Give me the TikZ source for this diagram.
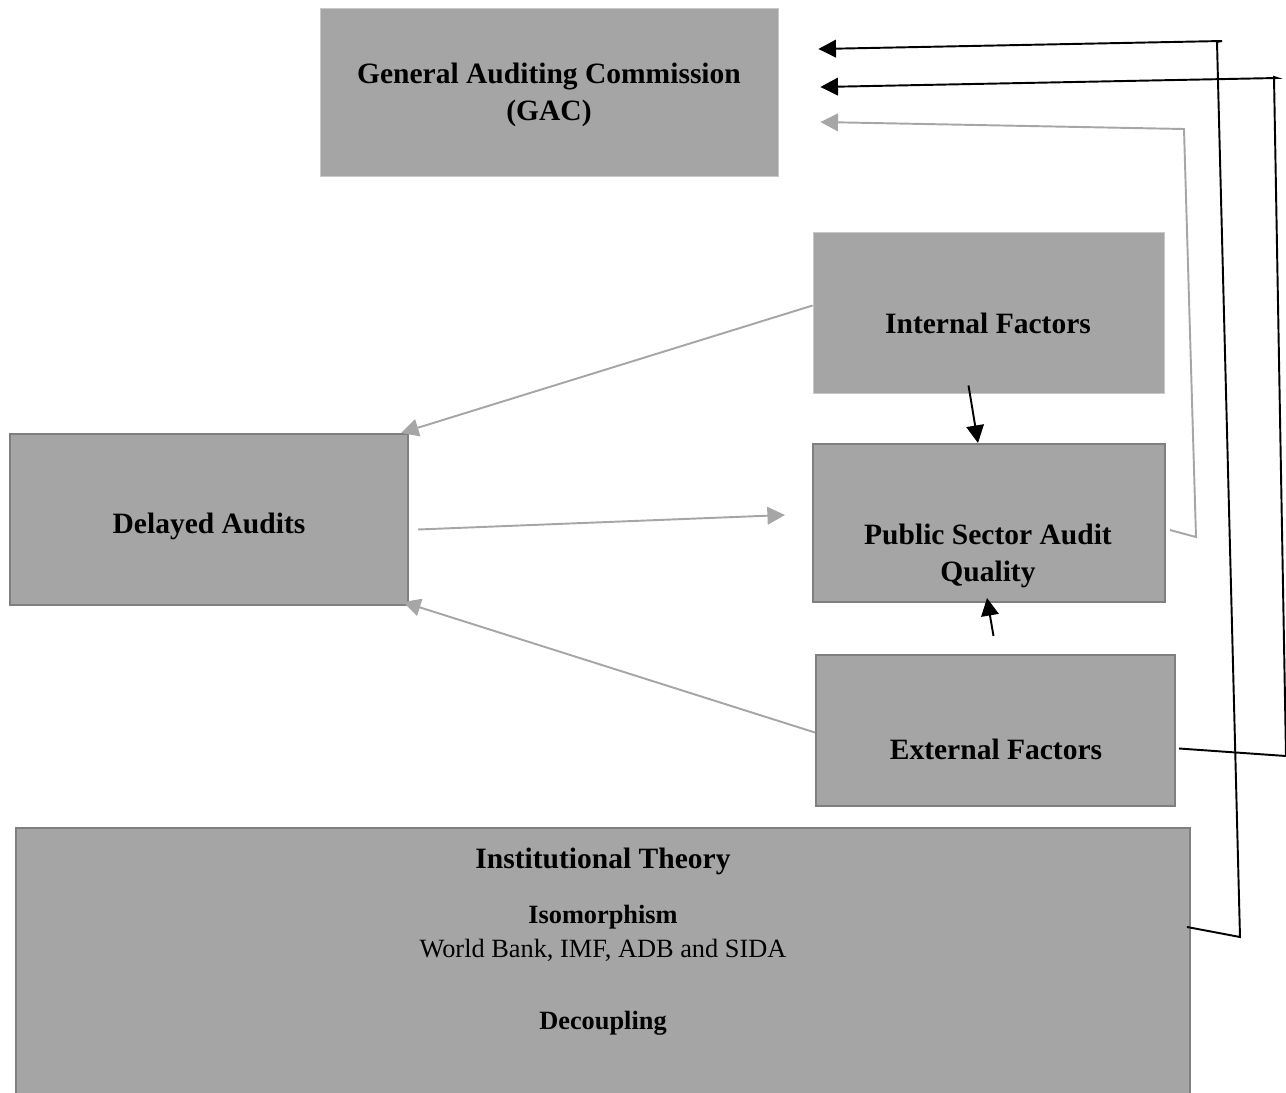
\documentclass[tikz,border=0pt]{standalone}
\usepackage{fontspec}
\setmainfont{Liberation Serif}
\usetikzlibrary{arrows.meta}
\definecolor{boxgray}{HTML}{A5A5A5}
\definecolor{rimgray}{HTML}{7F7F7F}
\definecolor{lightrim}{HTML}{C8C8C8}
\definecolor{linkgray}{HTML}{A6A6A6}
\tikzset{
  flatbox/.style={draw=lightrim, line width=0.5pt, fill=boxgray, inner sep=0pt},
  rimbox/.style={draw=rimgray, line width=1.2pt, fill=boxgray, inner sep=0pt},
  head/.style={font=\fontsize{16.8}{21}\selectfont\bfseries, align=center},
  subhead/.style={font=\fontsize{15}{18}\selectfont\bfseries},
  plain/.style={font=\fontsize{15}{18}\selectfont},
  blacklink/.style={line width=1.1pt, -{Triangle[length=10pt,width=10pt]}},
  graylink/.style={linkgray, line width=1.1pt, -{Triangle[length=10pt,width=10pt]}}
}
\begin{document}
\begin{tikzpicture}[x=0.02cm, y=-0.02cm]
      \useasboundingbox (0,0) rectangle (1286,1093);
      % -------------------------------------------- boxes
      \node[flatbox, minimum width=9.16cm, minimum height=3.36cm] at (549,92) (gac_box) {};
      \node[flatbox, minimum width=7.02cm, minimum height=3.22cm] at (988.5,312.5) (int_box) {};
      \node[rimbox, minimum width=7.04cm, minimum height=3.16cm] at (989,523) (psaq_box) {};
      \node[rimbox, minimum width=7.18cm, minimum height=3.02cm] at (995.5,730.5) (ext_box) {};
      \node[rimbox, minimum width=7.96cm, minimum height=3.42cm] at (209,519.5) (del_box) {};
      \node[rimbox, minimum width=23.48cm, minimum height=5.4cm] at (603,963) (inst_box) {};
      % -------------------------------------------- texts
      \node[head] at (549,95) (gac_txt) {General Auditing Commission\\(GAC)};
      \node[head] at (988,323) (int_txt) {Internal Factors};
      \node[head] at (988,556) (psaq_txt) {Public Sector Audit\\Quality};
      \node[head] at (996,749) (ext_txt) {External Factors};
      \node[head] at (209,526) (del_txt) {Delayed Audits};
      \node[head] at (603,861) (inst_txt) {Institutional Theory};
      \node[subhead] at (603,917) (iso_txt) {Isomorphism};
      \node[plain] at (603,950) (donor_txt) {World Bank, IMF, ADB and SIDA};
      \node[subhead] at (603,1023) (dec_txt) {Decoupling};
      % -------------------------------------------- corners of the feedback lines
      \coordinate (fb_q1) at (1196,537);
      \coordinate (fb_q2) at (1184,129);
      \coordinate (fb_i1) at (1240,937);
      \coordinate (fb_i2) at (1217,42);
      \coordinate (fb_i3) at (1222,41);
      \coordinate (fb_e1) at (1286,756);
      \coordinate (fb_e2) at (1274,77);
      \coordinate (fb_e3) at (1277,78);
      % -------------------------------------------- gray links
      \draw[graylink] ([shift={(0,-7)}]int_box.west) -- ([shift={(-8,0)}]del_box.north east);
      \draw[graylink] ([shift={(0,2)}]ext_box.west) -- ([shift={(-6,-4)}]del_box.south east);
      \draw[graylink] ([shift={(9,10)}]del_box.east) -- ([shift={(-27,-8)}]psaq_box.west);
      \draw[graylink] ([shift={(4,7)}]psaq_box.east) -- (fb_q1) -- (fb_q2) -- ([shift={(42,30)}]gac_box.east);
      % -------------------------------------------- black links
      \draw[blacklink] ([shift={(-20,-8)}]int_box.south) -- ([shift={(-11,0)}]psaq_box.north);
      \draw[blacklink] ([shift={(-2,-18)}]ext_box.north) -- ([shift={(-2,-5)}]psaq_box.south);
      \draw[blacklink] ([shift={(-4,100)}]inst_box.north east) -- (fb_i1) -- (fb_i2) -- (fb_i3) -- ([shift={(40,-43)}]gac_box.east);
      \draw[blacklink] ([shift={(3,18)}]ext_box.east) -- (fb_e1) -- (fb_e2) -- (fb_e3) -- ([shift={(42,-5)}]gac_box.east);
\end{tikzpicture}
\end{document}
